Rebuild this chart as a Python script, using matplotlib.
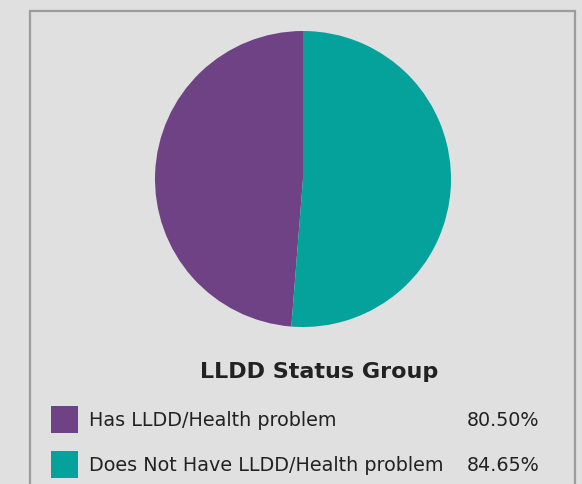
import matplotlib
matplotlib.use("Agg")
import matplotlib.pyplot as plt
from matplotlib.patches import Rectangle

# ---- data ----
labels = ["Has LLDD/Health problem", "Does Not Have LLDD/Health problem"]
values = [80.50, 84.65]
colors = ["#6f4285", "#05a19b"]
title = "LLDD Status Group"

W, H = 582, 485
BG = "#dfe0df"

fig = plt.figure(figsize=(W / 100, H / 100), dpi=100, facecolor=BG)


def fx(px):
    return px / W


def fy(py):
    return 1 - py / H


# outer frame (bottom edge runs off the image)
fig.patches.append(Rectangle((fx(30), fy(500)), fx(575) - fx(30), fy(12) - fy(500),
                             transform=fig.transFigure, fill=False,
                             edgecolor="#9b9c9b", lw=1.6))

# pie
cx, cy, r = 303, 180, 148
ax = fig.add_axes([fx(cx - r), fy(cy + r), (2 * r) / W, (2 * r) / H])
ax.pie(values, colors=colors, startangle=90, counterclock=True,
       wedgeprops=dict(linewidth=0))
ax.set_xlim(-1, 1)
ax.set_ylim(-1, 1)
ax.set_aspect("equal")
ax.axis("off")

fig.text(fx(319), fy(372), title, ha="center", va="center",
         fontsize=16, fontweight="bold", color="#222222")

rows_y = [420, 465]
for lab, val, col, yy in zip(labels, values, colors, rows_y):
    fig.patches.append(Rectangle((fx(51), fy(yy + 13.5)), 27 / W, 27 / H,
                                 transform=fig.transFigure, facecolor=col,
                                 edgecolor="none"))
    fig.text(fx(89), fy(yy + 1), lab, ha="left", va="center",
             fontsize=13.8, color="#222222")
    fig.text(fx(539), fy(yy + 1), f"{val:.2f}%", ha="right", va="center",
             fontsize=13.8, color="#222222")

fig.savefig("out.png", dpi=100, facecolor=BG)
